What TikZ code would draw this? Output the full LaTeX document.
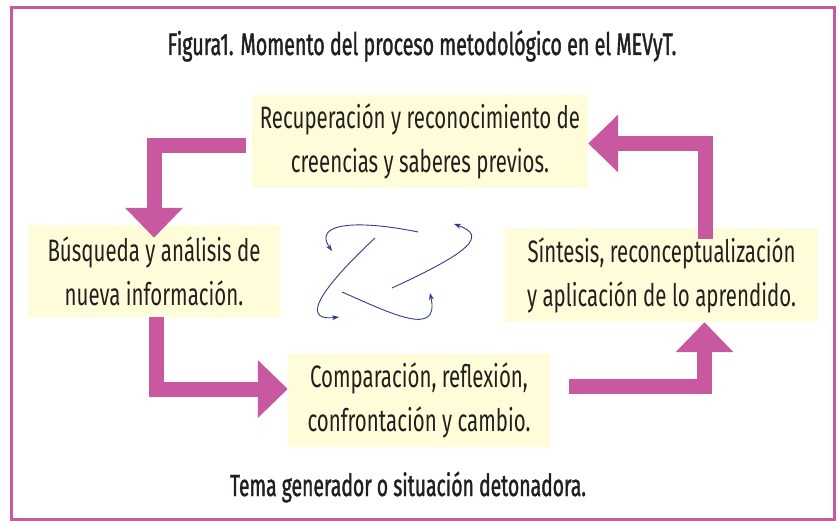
\documentclass[tikz,border=0pt]{standalone}
\usepackage{fontspec}
\setmainfont{Fira Sans}[FakeStretch=0.66]
\newfontfamily\headfont{Fira Sans}[FakeStretch=0.635,FakeBold=1.2]
\usepackage{xcolor}
\usepackage{tikz}
\usetikzlibrary{arrows.meta, positioning}

\definecolor{magentaBar}{RGB}{200,88,160}
\definecolor{paleYellow}{RGB}{255,252,218}
\definecolor{swirlBlue}{RGB}{45,60,140}
\definecolor{inkGray}{RGB}{35,31,32}

\tikzset{
  stagebox/.style={fill=paleYellow, text=inkGray, align=center, inner sep=0pt,
    font=\fontsize{31}{44}\selectfont},
  blockarrow/.style={magentaBar, line width=15pt, line join=miter,
    -{Triangle[width=56pt,length=30pt]}},
  swirl/.style={swirlBlue, line width=0.9pt, -{Stealth[length=7pt,width=5pt]}}
}

\begin{document}
\begin{tikzpicture}[x=1pt,y=1pt,yscale=-1,xscale=1]
\path[use as bounding box] (0,0) rectangle (840,521);

%Shape: Frame
\draw[magentaBar, line width=2.5pt] (11.5,7.5) rectangle (834.5,519.5);

% Text Node
\node[anchor=base, text=inkGray, font=\headfont\fontsize{31}{36}\selectfont] (title) at (422,55)
  {Figura1. Momento del proceso metodológico en el MEVyT.};

%Shape: stage boxes
\node[stagebox, minimum width=336pt, minimum height=93pt] (recup) at (420,141.5)
  {Recuperación y reconocimiento de\\creencias y saberes previos.};
\node[stagebox, minimum width=252pt, minimum height=92pt] (busq) at (154,271)
  {Búsqueda y análisis de\\nueva información.};
\node[stagebox, minimum width=262pt, minimum height=93pt] (compar) at (419,400.5)
  {Comparación, reflexión,\\confrontación y cambio.};
\node[stagebox, minimum width=313pt, minimum height=94pt] (sintesis) at (661.5,275)
  {Síntesis, reconceptualización\\y aplicación de lo aprendido.};

% Text Node
\node[anchor=base, text=inkGray, font=\headfont\fontsize{30.5}{34}\selectfont] (tema) at (408,496)
  {Tema generador o situación detonadora.};

%Block arrows
\draw[blockarrow] ([xshift=-6pt,yshift=4pt]recup.west) -| ([yshift=13pt]busq.north);
\draw[blockarrow] ([xshift=2pt]busq.south) |- ([yshift=-11.5pt]compar.west);
\draw[blockarrow] ([xshift=19pt,yshift=-14pt]compar.east) -| ([xshift=43pt]sintesis.south);
\draw[blockarrow] ([xshift=43.5pt,yshift=11pt]sintesis.north) |- ([yshift=2pt]recup.east);

%Curved arrows in the middle
\draw[swirl] (418,232) .. controls (360,220) and (312,222) .. (332,251);
\draw[swirl] (375,238) .. controls (330,280) and (295,322) .. (339,317);
\draw[swirl] (392,288) .. controls (470,252) and (488,236) .. (454,224);
\draw[swirl] (342,292) .. controls (392,314) and (440,338) .. (430,293);

\end{tikzpicture}
\end{document}
